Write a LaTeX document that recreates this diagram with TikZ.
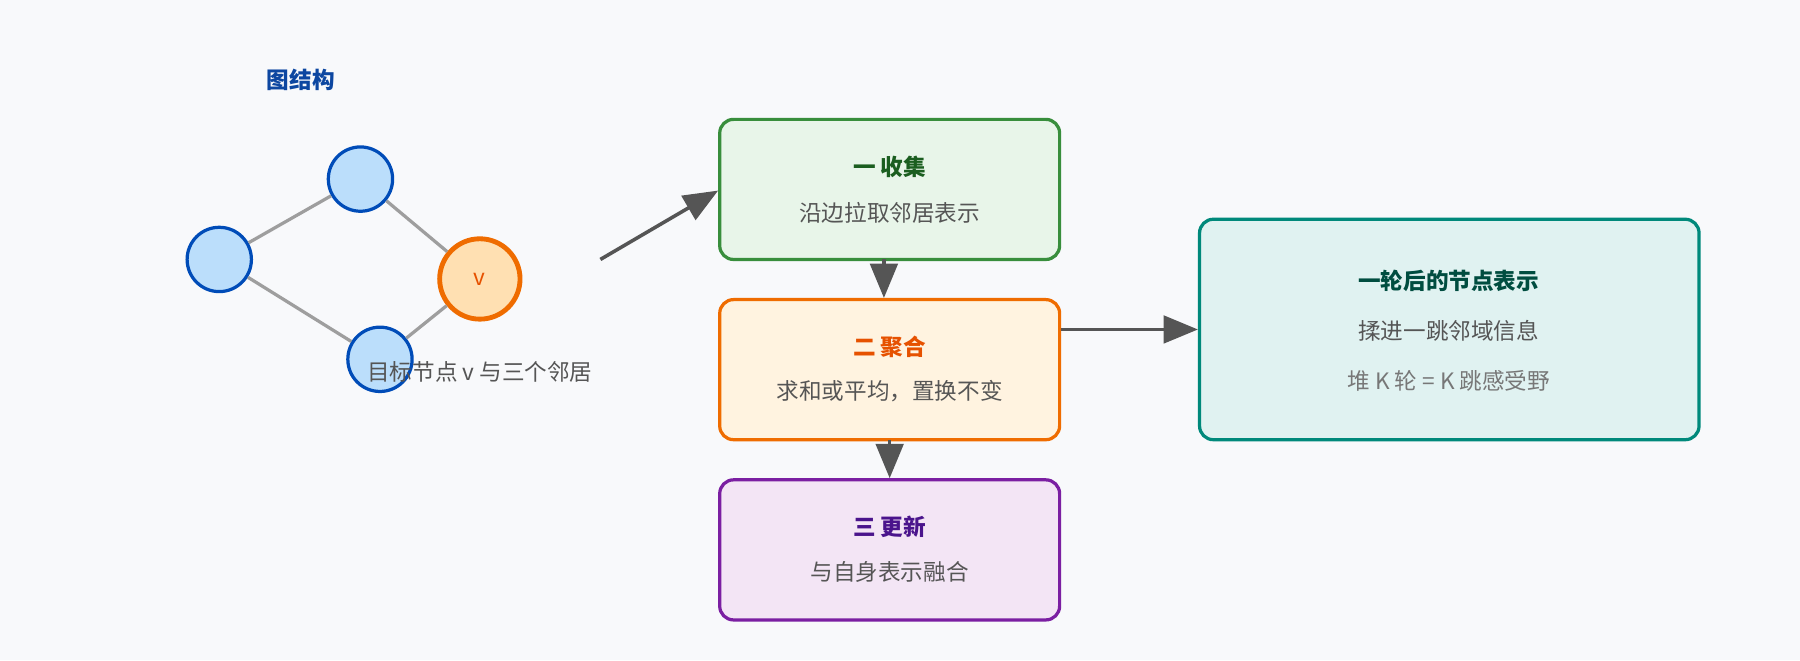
\documentclass[tikz,border=0pt]{standalone}
\usepackage{fontspec}
\setmainfont{Noto Sans CJK SC}
\usetikzlibrary{arrows.meta}
\definecolor{bg}{HTML}{F8F9FB}
\definecolor{txt}{HTML}{555555}
\begin{document}
\begin{tikzpicture}[x=0.025cm,y=-0.025cm,
  nb/.style={circle,draw=blue!60!black!70!cyan,fill={rgb,255:red,187;green,222;blue,251},line width=2pt,minimum size=1.4cm,inner sep=0pt},
  ed/.style={draw={rgb,255:red,158;green,158;blue,158},line width=2pt},
  ar/.style={draw=txt,line width=2.2pt,-{Triangle[length=0.75cm,width=0.6cm]}},
  box/.style={rounded corners=0.3cm,line width=2pt,minimum width=7.4cm,minimum height=3.05cm},
  ttl/.style={font=\fontsize{14}{16}\selectfont\bfseries},
  sub/.style={font=\fontsize{14}{16}\selectfont,text=txt}]
\fill[bg] (0,0) rectangle (1568,575);
\useasboundingbox (0,0) rectangle (1568,575);
\node[ttl,text={rgb,255:red,13;green,71;blue,161}] (gt) at (262,70) {图结构};
\node[nb] (n1) at (314,156) {};
\node[nb] (n2) at (191,226) {};
\node[nb] (n3) at (331,313) {};
\node[circle,draw={rgb,255:red,239;green,108;blue,0},fill={rgb,255:red,255;green,224;blue,178},line width=3pt,minimum size=1.75cm,inner sep=0pt,text={rgb,255:red,230;green,81;blue,0},font=\fontsize{14}{16}\selectfont] (v) at (418,243) {v};
\begin{scope}[on background layer/.try]
\end{scope}
\draw[ed] (n2) -- (n1); \draw[ed] (n1) -- (v); \draw[ed] (n2) -- (n3); \draw[ed] (n3) -- (v);
\node[sub] (cap) at (418,324) {目标节点 v 与三个邻居};
\coordinate (s0) at (523,226);
\node[box,draw={rgb,255:red,56;green,142;blue,60},fill={rgb,255:red,232;green,245;blue,233}] (b1) at (775,165) {};
\node[ttl,text={rgb,255:red,27;green,94;blue,32}] at (775,145) {一 收集};
\node[sub] at (775,185) {沿边拉取邻居表示};
\node[box,draw={rgb,255:red,239;green,108;blue,0},fill={rgb,255:red,255;green,243;blue,224}] (b2) at (775,322) {};
\node[ttl,text={rgb,255:red,230;green,81;blue,0}] at (775,302) {二 聚合};
\node[sub] at (775,341) {求和或平均，置换不变};
\node[box,draw={rgb,255:red,123;green,31;blue,162},fill={rgb,255:red,243;green,229;blue,245}] (b3) at (775,479) {};
\node[ttl,text={rgb,255:red,74;green,20;blue,140}] at (775,459) {三 更新};
\node[sub] at (775,498) {与自身表示融合};
\node[box,minimum width=10.875cm,minimum height=4.8cm,draw={rgb,255:red,0;green,137;blue,123},fill={rgb,255:red,224;green,242;blue,241}] (b4) at (1262.5,287) {};
\node[ttl,text={rgb,255:red,0;green,77;blue,64}] at (1262,245) {一轮后的节点表示};
\node[sub] at (1262,288) {揉进一跳邻域信息};
\node[sub,text={rgb,255:red,119;green,119;blue,119}] at (1262,332) {堆 K 轮 = K 跳感受野};
\draw[ar] (s0) -- (b1.west |- 0,166);
\draw[ar] (770,226) -- (b2.north -| 770,0);
\draw[ar] (775,383) -- (b3.north);
\draw[ar] (b2.east |- 0,287) -- (b4.west |- 0,287);
\end{tikzpicture}
\end{document}
